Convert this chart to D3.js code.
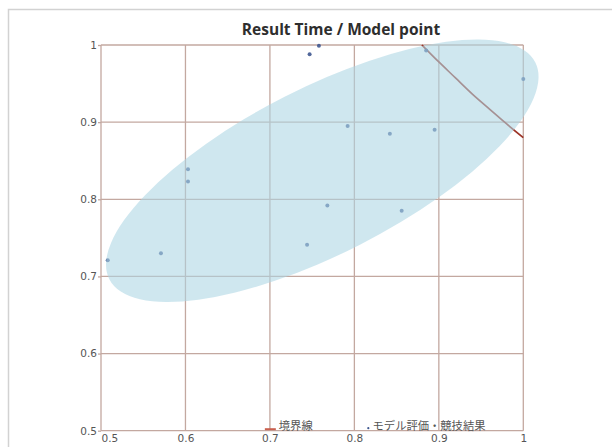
<!DOCTYPE html>
<html>
<head>
<meta charset="utf-8">
<script src="https://cdn.jsdelivr.net/npm/d3@7"></script>
<style>
  html, body { margin: 0; background: #fff; overflow: hidden; }
  svg { display: block; }
</style>
</head>
<body>
<div id="wrapper"></div>
<script>
// data
const tickValues = [0.5, 0.6, 0.7, 0.8, 0.9, 1]
const tickLabels = ["0.5", "0.6", "0.7", "0.8", "0.9", "1"]

const pointX = [0.508, 0.571, 0.603, 0.603, 0.744, 0.768, 0.747, 0.758, 0.792, 0.842, 0.856, 0.895, 0.885, 1.0]
const pointY = [0.721, 0.730, 0.839, 0.823, 0.741, 0.792, 0.988, 0.999, 0.895, 0.885, 0.785, 0.890, 0.993, 0.956]

const boundaryX = [0.88, 0.90, 0.92, 0.94, 0.96, 0.98, 1.0]
const boundaryY = [1.0, 0.978, 0.957, 0.936, 0.917, 0.898, 0.88]

const ellipseCenter = [0.762, 0.837]

const titleText = "Result Time / Model point"
const legendLabels = ["境界線", "モデル評価・競技結果"]

function drawChart() {
    const dimensions = {
        width: 612,
        height: 447,
        margin: { top: 45, right: 88.7, bottom: 16.3, left: 101 }
    }
    dimensions.boundedWidth = dimensions.width - dimensions.margin.left - dimensions.margin.right
    dimensions.boundedHeight = dimensions.height - dimensions.margin.top - dimensions.margin.bottom

    const svg = d3.select("#wrapper")
        .append("svg")
        .attr("width", dimensions.width)
        .attr("height", dimensions.height)

    // outer frame (only top + left edges are inside the picture)
    svg.append("path")
        .attr("d", "M8.5,460 V9.5 H620")
        .attr("fill", "none")
        .attr("stroke", "#d2d2d2")
        .attr("stroke-width", 1.5)

    const bounds = svg.append("g")
        .attr("transform", `translate(${dimensions.margin.left},${dimensions.margin.top})`)

    const xScale = d3.scaleLinear()
        .domain([0.5, 1])
        .range([0, dimensions.boundedWidth])
    const yScale = d3.scaleLinear()
        .domain([0.5, 1])
        .range([dimensions.boundedHeight, 0])

    const gridColor = "#c3a8a0"

    // grid
    bounds.append("g")
        .selectAll("line")
        .data(tickValues)
        .enter().append("line")
        .attr("x1", d => xScale(d))
        .attr("x2", d => xScale(d))
        .attr("y1", 0)
        .attr("y2", dimensions.boundedHeight)
        .attr("stroke", gridColor)
        .attr("stroke-width", 1.3)
    bounds.append("g")
        .selectAll("line")
        .data(tickValues)
        .enter().append("line")
        .attr("x1", 0)
        .attr("x2", dimensions.boundedWidth)
        .attr("y1", d => yScale(d))
        .attr("y2", d => yScale(d))
        .attr("stroke", gridColor)
        .attr("stroke-width", 1.3)

    // boundary curve
    const boundary = boundaryX.map((x, i) => [x, boundaryY[i]])
    const lineGen = d3.line()
        .x(d => xScale(d[0]))
        .y(d => yScale(d[1]))
        .curve(d3.curveNatural)
    bounds.append("path")
        .datum(boundary)
        .attr("d", lineGen)
        .attr("fill", "none")
        .attr("stroke", "#9c3326")
        .attr("stroke-width", 1.7)

    // points
    const points = pointX.map((x, i) => [x, pointY[i]])
    bounds.append("g")
        .selectAll("circle")
        .data(points)
        .enter().append("circle")
        .attr("cx", d => xScale(d[0]))
        .attr("cy", d => yScale(d[1]))
        .attr("r", 2)
        .attr("fill", "#3f5890")
        .attr("opacity", 0.9)

    // ellipse, semi transparent, over grid and marks
    bounds.append("ellipse")
        .attr("cx", 0)
        .attr("cy", 0)
        .attr("rx", 239)
        .attr("ry", 83)
        .attr("transform", `translate(${xScale(ellipseCenter[0])},${yScale(ellipseCenter[1])}) rotate(-27)`)
        .attr("fill", "rgb(172,213,227)")
        .attr("fill-opacity", 0.58)

    // axes
    const yAxis = bounds.append("g")
        .call(d3.axisLeft(yScale)
            .tickValues(tickValues)
            .tickFormat((d, i) => tickLabels[i])
            .tickSizeInner(3)
            .tickSizeOuter(0)
            .tickPadding(1))
    yAxis.select(".domain").remove()
    yAxis.selectAll(".tick line").attr("stroke", gridColor).attr("stroke-width", 1.3)
    yAxis.selectAll(".tick text")
        .attr("fill", "#555")
        .attr("font-size", 10.5)
        .attr("font-family", "DejaVu Sans")

    const xAxis = bounds.append("g")
        .attr("transform", `translate(0,${dimensions.boundedHeight})`)
        .call(d3.axisBottom(xScale)
            .tickValues(tickValues)
            .tickFormat((d, i) => tickLabels[i])
            .tickSize(0)
            .tickPadding(4))
    xAxis.select(".domain").remove()
    xAxis.selectAll(".tick text")
        .attr("fill", "#555")
        .attr("font-size", 10.5)
        .attr("font-family", "DejaVu Sans")
        .attr("text-anchor", (d, i) => i === 0 ? "start" : "middle")

    // title
    svg.append("text")
        .attr("x", 341)
        .attr("y", 34.5)
        .attr("text-anchor", "middle")
        .attr("font-family", "Open Sans")
        .attr("font-weight", 700)
        .attr("font-size", 15.5)
        .attr("fill", "#2e2e2e")
        .text(titleText)

    // legend
    const legend = bounds.append("g")
        .attr("transform", `translate(0,${dimensions.boundedHeight})`)
    legend.append("line")
        .attr("x1", xScale(0.694))
        .attr("x2", xScale(0.707))
        .attr("y1", -1.5)
        .attr("y2", -1.5)
        .attr("stroke", "#c9604f")
        .attr("stroke-width", 2)
    legend.append("text")
        .attr("x", xScale(0.7105))
        .attr("y", -1)
        .attr("font-family", "Noto Sans CJK JP")
        .attr("font-size", 11.3)
        .attr("fill", "#555")
        .text(legendLabels[0])
    legend.append("circle")
        .attr("cx", xScale(0.8165))
        .attr("cy", -2.5)
        .attr("r", 1.1)
        .attr("fill", "#3f5890")
    legend.append("text")
        .attr("x", xScale(0.8215))
        .attr("y", -1)
        .attr("font-family", "Noto Sans CJK JP")
        .attr("font-size", 11.3)
        .attr("fill", "#555")
        .text(legendLabels[1])
}

drawChart()
</script>
</body>
</html>
